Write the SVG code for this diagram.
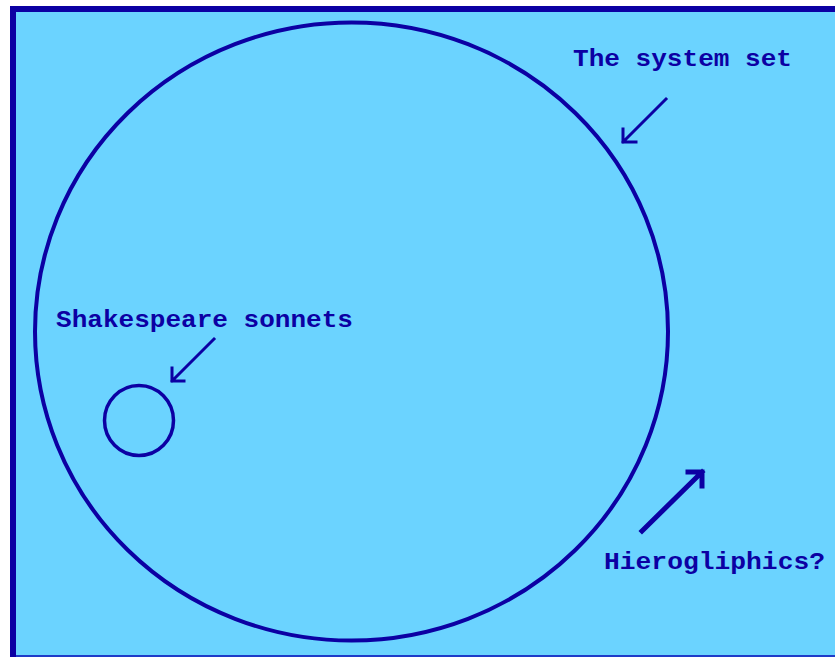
<svg xmlns="http://www.w3.org/2000/svg" width="835" height="657" viewBox="0 0 835 657">
<style>
.ln{fill:none;stroke:#0C00A3;stroke-linecap:square}
.t{font-family:"Liberation Mono","DejaVu Sans Mono",monospace;font-weight:bold;font-size:24px;fill:#0C00A3}
</style>
<rect x="0" y="0" width="835" height="657" fill="#ffffff"/>
<rect x="10" y="6" width="825" height="651" fill="#0C00A3"/>
<rect x="16" y="12" width="819" height="643" fill="#6BD3FF"/>
<rect x="16" y="655" width="819" height="2" fill="#1E3CC8"/>
<g id="system-set">
<ellipse cx="351.5" cy="331.5" rx="316.5" ry="309" class="ln" stroke-width="4"/>
<text class="t" x="573" y="66" textLength="219" lengthAdjust="spacingAndGlyphs">The system set</text>
</g>
<g id="shakespeare">
<ellipse cx="139" cy="420.5" rx="34.5" ry="35" class="ln" stroke-width="3.5"/>
<text class="t" x="56" y="327" textLength="297" lengthAdjust="spacingAndGlyphs">Shakespeare sonnets</text>
</g>
<g id="hieroglyphics">
<text class="t" x="604" y="569" textLength="221" lengthAdjust="spacingAndGlyphs">Hierogliphics?</text>
</g>
<g id="connectors">
<path class="ln" stroke-width="3" d="M666,99 L623,142 M623,129 L623,142 L636,142"/>
<path class="ln" stroke-width="3" d="M214,339 L172,381 M172,368 L172,381 L184,381"/>
<path class="ln" stroke-width="5" d="M642,531 L702,472 M688,472 L702,472 L702,486"/>
</g>
</svg>
